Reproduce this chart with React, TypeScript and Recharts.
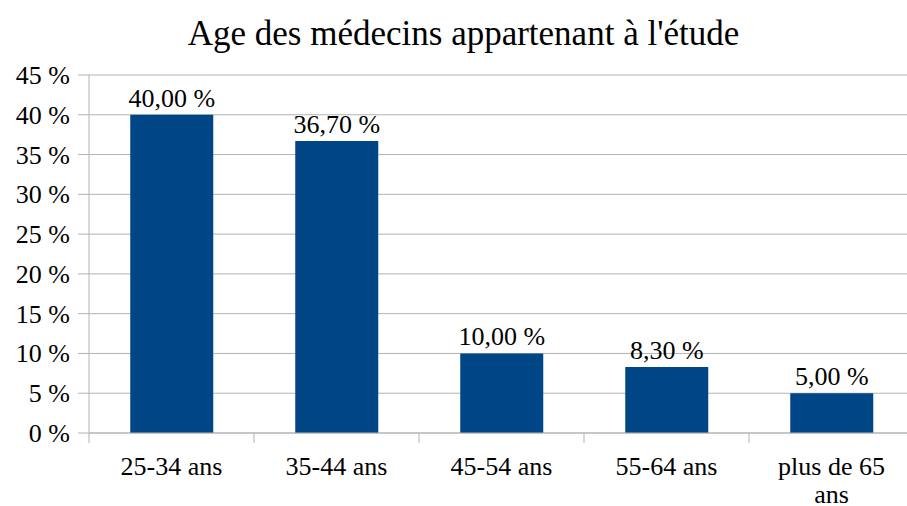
import { Bar, BarChart, CartesianGrid, LabelList, XAxis, YAxis } from "recharts";

const categories = ["25-34 ans", "35-44 ans", "45-54 ans", "55-64 ans", "plus de 65 ans"];
const values = [40.0, 36.7, 10.0, 8.3, 5.0];
const yTicks = [0, 5, 10, 15, 20, 25, 30, 35, 40, 45];

const data = categories.map((c, i) => ({ cat: c, value: values[i] }));

const GRID = "#b3b3b3";
const CHART_W = 930;
const Y_W = 89;
const RIGHT = 16;
const BAND = (CHART_W - Y_W - RIGHT) / categories.length;

const css = `
.chart-box, .chart-box * { font-family: "Liberation Serif" !important; }
.chart-box svg text, .chart-box svg tspan { font-family: "Liberation Serif" !important; }
`;

function CatTick(props: any) {
  const { x, y, payload, index } = props;
  const label: string = payload.value;
  const lines = label === "plus de 65 ans" ? ["plus de 65", "ans"] : [label];
  const half = BAND / 2;
  return (
    <g>
      <line x1={x - half} x2={x - half} y1={y} y2={y + 10} stroke={GRID} />
      {index === categories.length - 1 && (
        <line x1={x + half} x2={x + half} y1={y} y2={y + 10} stroke={GRID} />
      )}
      <text x={x} y={y} textAnchor="middle" fill="#000" fontSize={26}>
        {lines.map((l, i) => (
          <tspan key={i} x={x} dy={i === 0 ? 42 : 28}>
            {l}
          </tspan>
        ))}
      </text>
    </g>
  );
}

function ValTick(props: any) {
  const { x, y, payload } = props;
  return (
    <text x={x} y={y} dy={9} textAnchor="end" fill="#000" fontSize={26}>
      {`${payload.value} %`}
    </text>
  );
}

export default function App() {
  return (
    <div
      className="chart-box"
      style={{
        position: "absolute",
        left: 0,
        top: 0,
        width: 907,
        height: 506,
        overflow: "hidden",
        background: "#fff",
      }}
    >
      <style>{css}</style>
      <div
        style={{
          position: "absolute",
          left: 0,
          top: 16,
          width: 907,
          textAlign: "center",
          fontSize: 35,
          lineHeight: "35px",
          paddingLeft: 20,
          boxSizing: "border-box",
          whiteSpace: "nowrap",
        }}
      >
        Age des médecins appartenant à l'étude
      </div>
      <div style={{ position: "absolute", left: 0, top: 0 }}>
        <BarChart
          width={CHART_W}
          height={506}
          data={data}
          margin={{ top: 75, right: RIGHT, left: 0, bottom: 43 }}
          barCategoryGap="25%"
        >
          <CartesianGrid vertical={false} stroke={GRID} strokeWidth={1} />
          <XAxis
            dataKey="cat"
            height={30}
            tickLine={false}
            tickSize={0}
            tickMargin={0}
            axisLine={{ stroke: GRID }}
            tick={<CatTick />}
            interval={0}
          />
          <YAxis
            width={Y_W}
            domain={[0, 45]}
            ticks={yTicks}
            interval={0}
            tick={<ValTick />}
            tickSize={11}
            tickMargin={8}
            axisLine={{ stroke: GRID }}
            tickLine={{ stroke: GRID }}
          />
          <Bar dataKey="value" fill="#004586" isAnimationActive={false}>
            <LabelList
              dataKey="value"
              position="top"
              offset={8}
              formatter={(v: any) => `${Number(v).toFixed(2).replace(".", ",")} %`}
              style={{ fill: "#000", fontSize: 26 }}
            />
          </Bar>
        </BarChart>
      </div>
    </div>
  );
}
